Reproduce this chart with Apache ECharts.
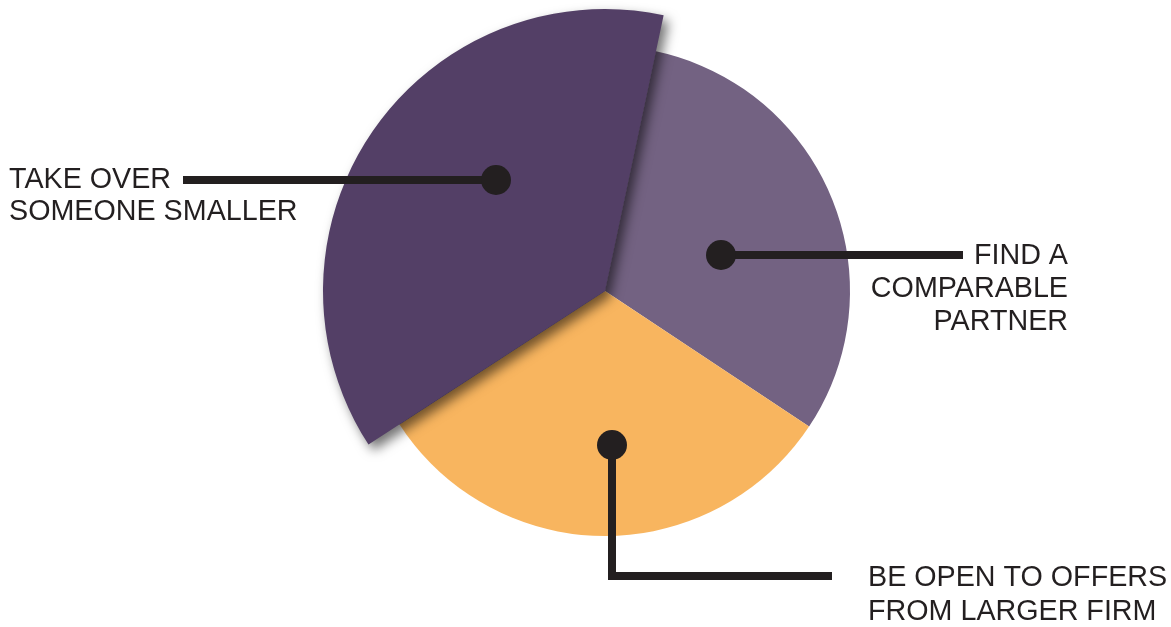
<!DOCTYPE html>
<html>
<head>
<meta charset="utf-8">
<title>Growth strategy</title>
<script src="https://cdn.jsdelivr.net/npm/echarts@6/dist/echarts.min.js"></script>
<style>
  html, body { margin: 0; padding: 0; background: #ffffff; }
  #chart { width: 1171px; height: 627px; }
</style>
</head>
<body>
<div id="chart"></div>
<script>
// Share of respondents by preferred growth route
const categories = ['FIND A\nCOMPARABLE\nPARTNER', 'BE OPEN TO OFFERS\nFROM LARGER FIRM', 'TAKE OVER\nSOMEONE SMALLER'];
const values = [31, 31.5, 37.5];
const colors = ['#736282', '#f8b55f', '#533f66'];

// Slice drawn pulled out on a wider radius
const highlightIndex = 2;

const INK = '#231f20';
const FONT = '28.7px "Liberation Sans", Arial, Helvetica, sans-serif';
const CENTER = [605, 291];

// Callout geometry: dot anchor, leader path, text block placement
const callouts = [
  { dot: [721, 255], path: [[721, 255], [963, 255]], text: { x: 1068, y: 240, align: 'right', lineHeight: 33 } },
  { dot: [612, 445], path: [[612, 445], [612, 576], [832, 576]], text: { x: 868, y: 561, align: 'left', lineHeight: 34 } },
  { dot: [496, 180], path: [[183, 180], [496, 180]], text: { x: 9, y: 164, align: 'left', lineHeight: 32 } }
];

const chart = echarts.init(document.getElementById('chart'), null, { renderer: 'canvas' });

const baseData = categories.map((name, i) => ({
  name: name,
  value: values[i],
  itemStyle: { color: colors[i] }
}));

const highlightData = categories.map((name, i) => ({
  name: name,
  value: values[i],
  itemStyle: i === highlightIndex
    ? {
        color: colors[i],
        shadowColor: 'rgba(0,0,0,0.55)',
        shadowBlur: 12,
        shadowOffsetX: 5,
        shadowOffsetY: 6
      }
    : { color: 'rgba(0,0,0,0)' }
}));

const graphics = [];
callouts.forEach((c, i) => {
  graphics.push({
    type: 'polyline',
    shape: { points: c.path },
    style: { stroke: INK, lineWidth: 8, fill: null, lineJoin: 'miter', lineCap: 'butt' },
    z: 100,
    silent: true
  });
  graphics.push({
    type: 'circle',
    shape: { cx: c.dot[0], cy: c.dot[1], r: 15 },
    style: { fill: INK },
    z: 101,
    silent: true
  });
  graphics.push({
    type: 'text',
    x: c.text.x,
    y: c.text.y,
    style: {
      text: categories[i],
      font: FONT,
      fill: INK,
      align: c.text.align,
      verticalAlign: 'top',
      lineHeight: c.text.lineHeight
    },
    z: 100,
    silent: true
  });
});

chart.setOption({
  backgroundColor: '#ffffff',
  animation: false,
  tooltip: { show: false },
  legend: { show: false },
  series: [
    {
      type: 'pie',
      center: CENTER,
      radius: [0, 245],
      startAngle: 78,
      clockwise: true,
      silent: true,
      label: { show: false },
      labelLine: { show: false },
      emphasis: { disabled: true },
      data: baseData,
      z: 1
    },
    {
      type: 'pie',
      center: CENTER,
      radius: [0, 282],
      startAngle: 78,
      clockwise: true,
      silent: true,
      label: { show: false },
      labelLine: { show: false },
      emphasis: { disabled: true },
      data: highlightData,
      z: 2
    }
  ],
  graphic: { elements: graphics }
});
</script>
</body>
</html>
